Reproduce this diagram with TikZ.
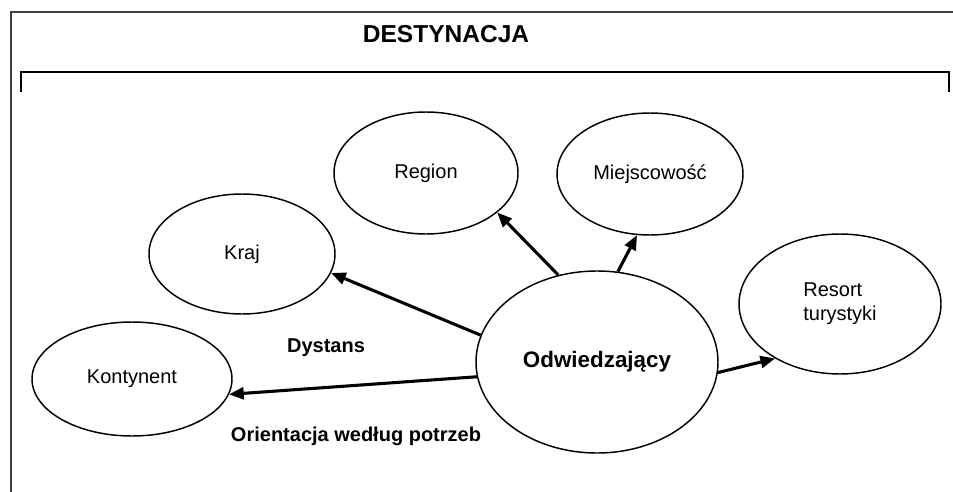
\documentclass[tikz,border=0pt]{standalone}
\usepackage{fontspec}
\setmainfont{Liberation Sans}
\usepackage{xcolor}
\usepackage{tikz}
\usetikzlibrary{arrows.meta, shapes.geometric}

\begin{document}
\begin{tikzpicture}[
    x=0.75pt, y=-0.75pt,
    spot/.style={ellipse, draw, line width=1.1pt, inner sep=0pt, align=left, font=\fontsize{15}{18}\selectfont},
    flow/.style={-{Triangle[length=11pt, width=9pt]}, line width=2.3pt},
    caption/.style={font=\fontsize{15}{18}\selectfont\bfseries}
]
\useasboundingbox (0,0) rectangle (953,492);

% frame and bracket
\draw[black!75, line width=1.5pt] (953,12) -- (11,12) -- (11,492);
\draw[line width=1.1pt] (21,92) -- (21,72) -- (949,72) -- (949,92);
\node[font=\fontsize{18.4}{22}\selectfont\bfseries] (title) at (446,34) {DESTYNACJA};

\node[spot, minimum width=150pt, minimum height=85.5pt] (kont) at (132,379) {Kontynent};
\node[spot, minimum width=139.5pt, minimum height=90pt] (kraj) at (242,254) {Kraj};
\node[spot, minimum width=138pt, minimum height=91.5pt] (region) at (426,173) {Region};
\node[spot, minimum width=139.5pt, minimum height=91.5pt] (miejsc) at (650,174) {Miejscowość};
\node[spot, minimum width=151.5pt, minimum height=105pt] (resort) at (840,304) {Resort\\turystyki};
\node[spot, minimum width=181.5pt, minimum height=136.5pt, font=\fontsize{16.8}{20}\selectfont\bfseries] (odw) at (597,362) {Odwiedzający};

\node[caption] (dyst) at (326,348) {Dystans};
\node[caption] (orient) at (356,436) {Orientacja według potrzeb};

\draw[flow] (odw.167.8) -- (kraj.-12.3);
\draw[flow] (odw.-173.9) -- (kont.-9.6);
\draw[flow] (odw.114.2) -- (region.-29.4);
\draw[flow] (odw.77.3) -- (miejsc.-102.4);
\draw[flow] (odw.-5.7) -- (resort.-140.7);

\end{tikzpicture}
\end{document}
